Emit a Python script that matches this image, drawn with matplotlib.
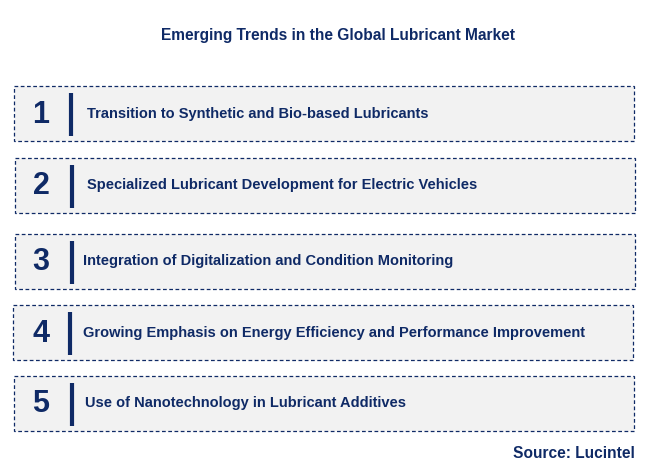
import matplotlib
matplotlib.use("Agg")
import matplotlib.pyplot as plt
from matplotlib.patches import Rectangle

title = "Emerging Trends in the Global Lubricant Market"
numbers = ["1", "2", "3", "4", "5"]
trends = [
    "Transition to Synthetic and Bio-based Lubricants",
    "Specialized Lubricant Development for Electric Vehicles",
    "Integration of Digitalization and Condition Monitoring",
    "Growing Emphasis on Energy Efficiency and Performance Improvement",
    "Use of Nanotechnology in Lubricant Additives",
]
source = "Source: Lucintel"

navy = "#0f2a66"
box_tops = [86, 158, 234, 305, 376]
box_lefts = [14, 15, 15, 13, 14]
bar_x = [71, 72, 72, 70, 72]
text_x = [87, 87, 83, 83, 85]

fig = plt.figure(figsize=(6.45, 4.74), dpi=100)
ax = fig.add_axes([0, 0, 1, 1])
ax.set_xlim(0, 645)
ax.set_ylim(474, 0)
ax.axis("off")

ax.text(338, 35, title, ha="center", va="center", fontsize=11.2,
        fontweight="bold", color=navy, family="Liberation Sans")

for i, (num, t) in enumerate(zip(numbers, trends)):
    top = box_tops[i]
    h = 55
    ax.add_patch(Rectangle((box_lefts[i], top), 620, h, facecolor="#f2f2f2",
                           edgecolor=navy, linestyle=(0, (3, 2)), linewidth=0.9))
    cy = top + h / 2
    ax.plot([bar_x[i], bar_x[i]], [top + 7, top + h - 5], color=navy, linewidth=3,
            solid_capstyle="butt")
    ax.text(41, cy + 1, num, ha="center", va="center", fontsize=22,
            fontweight="bold", color=navy, family="Liberation Sans")
    ax.text(text_x[i], cy, t, ha="left", va="center", fontsize=10.5,
            fontweight="bold", color=navy, family="Liberation Sans")

ax.text(635, 454, source, ha="right", va="center", fontsize=11.2,
        fontweight="bold", color=navy, family="Liberation Sans")

fig.savefig("out.png", dpi=100, facecolor="white")
